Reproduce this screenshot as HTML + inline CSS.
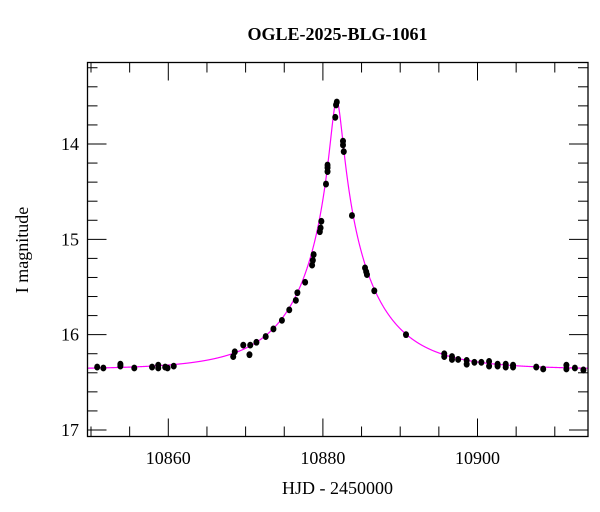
<!DOCTYPE html>
<html><head><meta charset="utf-8"><style>
html,body{margin:0;padding:0;background:#fff;}
svg{display:block;font-family:"Liberation Serif",serif;}
</style></head><body>
<svg id="chart" width="600" height="512" viewBox="0 0 600 512">
<text x="337.5" y="40" text-anchor="middle" font-size="18" font-weight="bold">OGLE-2025-BLG-1061</text>
<text x="337.5" y="494" text-anchor="middle" font-size="18">HJD - 2450000</text>
<text transform="translate(28,250) rotate(-90)" text-anchor="middle" font-size="18">I magnitude</text>
<g id="axes"></g>
<g id="model"></g>
<g id="points"></g>
<rect x="87.5" y="62.5" width="500.5" height="374" fill="none" stroke="#000" stroke-width="1.3"/>
</svg>
<script>
const xTicksMajor = [10860, 10880, 10900];
const yTicksMajor = [14, 15, 16, 17];
const obsTime = [10850.8,10851.6,10853.8,10853.8,10855.6,10857.9,10858.7,10858.7,10859.6,10859.9,10860.7,
10868.4,10868.6,10869.7,10870.5,10870.6,10871.4,10872.6,10873.6,10874.7,10875.65,10876.5,10876.7,10877.7,
10878.6,10878.7,10878.8,10879.6,10879.7,10879.8,10880.4,10880.6,10880.6,10880.6,10881.6,10881.7,10881.8,
10882.6,10882.6,10882.7,10883.76,10885.45,10885.6,10885.7,10886.65,10890.75,
10895.7,10895.7,10896.7,10896.7,10897.5,10898.6,10898.6,10899.6,10900.5,10901.5,10901.5,10902.6,10902.6,
10903.65,10903.65,10904.6,10904.6,10907.6,10908.5,10911.5,10911.5,10912.6,10913.7];
const obsMag = [16.34,16.35,16.33,16.31,16.35,16.34,16.32,16.35,16.34,16.35,16.33,
16.23,16.18,16.11,16.21,16.11,16.08,16.02,15.94,15.85,15.74,15.64,15.56,15.45,
15.27,15.22,15.16,14.92,14.88,14.81,14.42,14.29,14.25,14.22,13.72,13.59,13.56,
13.97,14.01,14.08,14.75,15.30,15.34,15.37,15.54,16.0,
16.20,16.23,16.23,16.26,16.26,16.27,16.31,16.29,16.29,16.28,16.33,16.31,16.33,
16.31,16.34,16.32,16.34,16.34,16.36,16.32,16.36,16.35,16.37];
const modelT0 = 10881.78, modelTE = 9.8, modelU0 = 0.0748, modelBase = 16.365;

const X0=87.5, X1=588, T0=10849.5, T1=10914.3;
const Y0=62.5, Y1=436.5;
const xs = t => 168.3 + (t-10860)*7.73;
const ys = m => 144 + (m-14)*95.33;
const NS="http://www.w3.org/2000/svg";
function mk(tag, attrs, parent){const e=document.createElementNS(NS,tag);for(const k in attrs)e.setAttribute(k,attrs[k]);parent.appendChild(e);return e;}
const axes=document.getElementById('axes');
for(let t=10850;t<=10914;t+=5){
  const major = t%20===0;
  const L = major?18:10;
  const x=xs(t);
  const tb=mk('line',{x1:x,x2:x,y1:Y1,y2:Y1-L,stroke:'#000','stroke-width':1},axes);
  
  
  const tt=mk('line',{x1:x,x2:x,y1:Y0,y2:Y0+L,stroke:'#000','stroke-width':1},axes);
  
  
}
xTicksMajor.forEach(t=>{
  const tx=mk('text',{x:xs(t),y:464,'text-anchor':'middle','font-size':18},axes);
  tx.textContent=t;
  
  
});
for(let i=66;i<=85;i++){
  const m=i/5;
  const major = i%5===0;
  const L=major?19:10;
  const y=ys(m);
  if(y<Y0-0.5||y>Y1+0.5) continue;
  const tl=mk('line',{x1:X0,x2:X0+L,y1:y,y2:y,stroke:'#000','stroke-width':1},axes);
  
  
  const tr=mk('line',{x1:X1,x2:X1-L,y1:y,y2:y,stroke:'#000','stroke-width':1},axes);
  
  
}
yTicksMajor.forEach(m=>{
  const ty=mk('text',{x:79,y:ys(m)+6,'text-anchor':'end','font-size':18},axes);
  ty.textContent=m;
  
  
});
function modelMag(t){
  const tau=(t-modelT0)/modelTE;
  const u=Math.sqrt(modelU0*modelU0+tau*tau);
  const A=(u*u+2)/(u*Math.sqrt(u*u+4));
  return modelBase-2.5*Math.log10(A);
}
let d='';
for(let t=T0;t<=T1;t+=0.02){d+=(d?'L':'M')+xs(t).toFixed(2)+','+ys(modelMag(t)).toFixed(2);}
const path=mk('path',{d:d,fill:'none',stroke:'#ff00ff','stroke-width':1.2},document.getElementById('model'));


const pts=document.getElementById('points');
obsTime.forEach((t,i)=>{
  const c=mk('ellipse',{cx:xs(t),cy:ys(obsMag[i]),rx:3,ry:3.4,fill:'#000'},pts);
  
  
});
</script>
</body></html>
